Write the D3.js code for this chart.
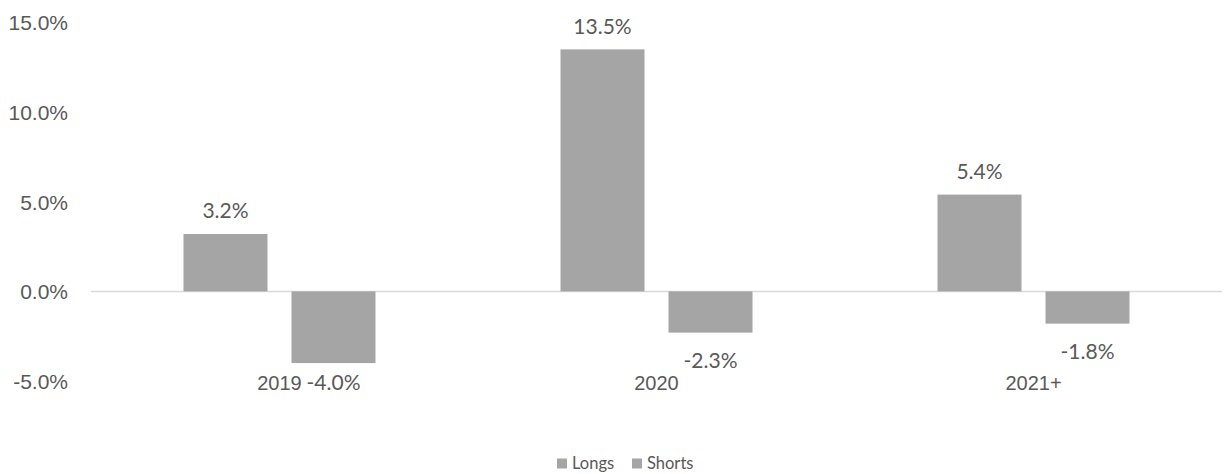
<!DOCTYPE html>
<html>
<head>
<meta charset="utf-8">
<script src="https://cdn.jsdelivr.net/npm/d3@7"></script>
<style>
  html, body { margin: 0; padding: 0; background: #fff; }
  svg { display: block; font-family: Lato, "Open Sans", "Liberation Sans", sans-serif; }
</style>
</head>
<body>
<svg id="chart" width="1225" height="474"></svg>
<script>
// Return by period, longs vs shorts (percent)
const categories = ["2019", "2020", "2021+"];
const seriesNames = ["Longs", "Shorts"];
const longs = [3.2, 13.5, 5.4];
const shorts = [-4.0, -2.3, -1.8];
const yTicks = [-5, 0, 5, 10, 15];

const plot = { left: 91, right: 1222, top: 22.5, bottom: 381 };
const barColor = "#a5a5a5";
const textColor = "#595959";

const svg = d3.select("#chart");

const rows = categories.map((c, i) => ({ cat: c, Longs: longs[i], Shorts: shorts[i] }));

const x0 = d3.scaleBand().domain(categories).range([plot.left, plot.right]).paddingInner(0).paddingOuter(0);
const x1 = d3.scaleBand().domain(seriesNames)
  .range([x0.bandwidth() / 2 - 96, x0.bandwidth() / 2 + 96])
  .paddingInner(24 / 108).paddingOuter(0);
const y = d3.scaleLinear().domain([-5, 15]).range([plot.bottom, plot.top]);

const fmt = v => v.toFixed(1) + "%";

// Y axis labels
const yAxis = d3.axisLeft(y).tickValues(yTicks).tickFormat(fmt).tickSize(0).tickPadding(0);
const yg = svg.append("g").attr("transform", "translate(68,0)").call(yAxis);
yg.select(".domain").remove();
yg.selectAll("text")
  .attr("font-size", 21).attr("fill", textColor)
  .attr("text-anchor", "end").attr("dy", "0.35em");

// Zero baseline
svg.append("line")
  .attr("x1", plot.left).attr("x2", plot.right)
  .attr("y1", y(0)).attr("y2", y(0))
  .attr("stroke", "#d9d9d9").attr("stroke-width", 1.5);

// Bars
const groups = svg.append("g").selectAll("g").data(rows).join("g")
  .attr("transform", d => `translate(${x0(d.cat)},0)`);

const cells = groups.selectAll("g").data(d => seriesNames.map(k => ({ key: k, value: d[k] }))).join("g");

cells.append("rect")
  .attr("x", d => x1(d.key))
  .attr("width", x1.bandwidth())
  .attr("y", d => y(Math.max(0, d.value)))
  .attr("height", d => Math.abs(y(d.value) - y(0)))
  .attr("fill", barColor);

// Value labels
cells.append("text")
  .attr("x", d => x1(d.key) + x1.bandwidth() / 2)
  .attr("y", d => d.value >= 0 ? y(d.value) - 23 : Math.min(y(d.value) + 28, plot.bottom + 2))
  .attr("dy", "0.35em")
  .attr("text-anchor", "middle")
  .attr("font-size", 21).attr("fill", textColor)
  .text(d => fmt(d.value));

// Category axis labels
const xAxis = d3.axisBottom(x0).tickSize(0).tickPadding(0);
const xg = svg.append("g").attr("transform", `translate(0,${plot.bottom + 2})`).call(xAxis);
xg.select(".domain").remove();
xg.selectAll("text").attr("font-size", 20).attr("fill", textColor).attr("dy", "0.35em");

// Legend
const legend = svg.append("g").attr("transform", "translate(557,463.5)");
const legendItems = [{ name: "Longs", x: 0 }, { name: "Shorts", x: 75 }];
legendItems.forEach(it => {
  legend.append("rect").attr("x", it.x).attr("y", -5).attr("width", 10).attr("height", 10).attr("fill", barColor);
  legend.append("text").attr("x", it.x + 15).attr("y", 0).attr("dy", "0.35em")
    .attr("font-size", 16.5).attr("fill", textColor).text(it.name);
});
</script>
</body>
</html>
